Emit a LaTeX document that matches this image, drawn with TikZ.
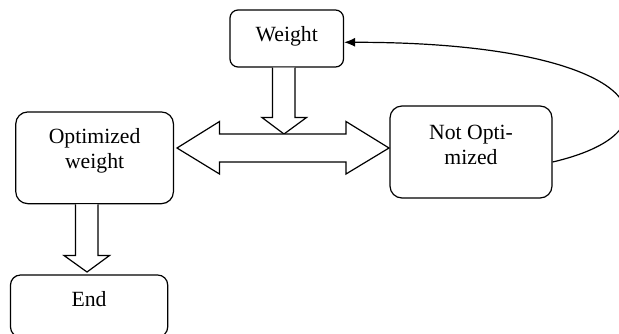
\documentclass[tikz,border=0pt]{standalone}
\usepackage{fontspec}
\setmainfont{Liberation Serif}
\usetikzlibrary{arrows.meta, positioning}
\tikzstyle{stage} = [rectangle, rounded corners=6pt, draw=black, line width=0.6pt, inner sep=0pt, align=center, text height=7.5pt, font=\fontsize{10.85}{12.5}\selectfont]
\tikzstyle{blockarrow} = [draw=black, line width=0.6pt, fill=white, line join=miter]
\tikzstyle{arrow} = [line width=0.6pt, -{Latex[length=5.5pt, width=4.5pt]}]
\begin{document}
\begin{tikzpicture}[x=0.5pt, y=-0.5pt]
	\useasboundingbox (0,0) rectangle (619,333);
	\node (weight) [stage, rounded corners=4pt, minimum width=56.75pt, minimum height=28.5pt, text depth=4.3pt] at (286.75,38.5) {Weight};
		\node (optimized) [stage, minimum width=78.85pt, minimum height=45.85pt, text height=12.5pt, text depth=2pt] at (94.6,157.8) {Optimized\\weight};
		\node (notOptimized) [stage, minimum width=81pt, minimum height=46pt, text height=14pt, text depth=2pt] at (471,152) {Not Opti-\\mized};
		\node (end) [stage, rounded corners=5pt, minimum width=78.6pt, minimum height=31pt, text depth=6.8pt] at (89.1,306) {End};
	% block arrows
	\draw [blockarrow] (weight.south -| 272.5,0) -- (272.5,117.5) -- (262,117.5) -- (284,134) -- (306.5,117.5) -- (295,117.5) -- (weight.south -| 295,0);
	\draw [blockarrow] (177,148) -- (219.5,121.5) -- (219.5,134) -- (346,134) -- (346,121.5) -- (389,148) -- (346,174) -- (346,162) -- (219.5,162) -- (219.5,174) -- cycle;
	\draw [blockarrow] (optimized.south -| 75.5,0) -- (75.5,255.5) -- (64,255.5) -- (87,272) -- (109.5,255.5) -- (98,255.5) -- (optimized.south -| 98,0);
	% back to weight
	\draw [arrow] ([yshift=-5pt]notOptimized.east) .. controls (690,130) and (640,42) .. ([yshift=-1.9pt]weight.east);
	\end{tikzpicture}
\end{document}
